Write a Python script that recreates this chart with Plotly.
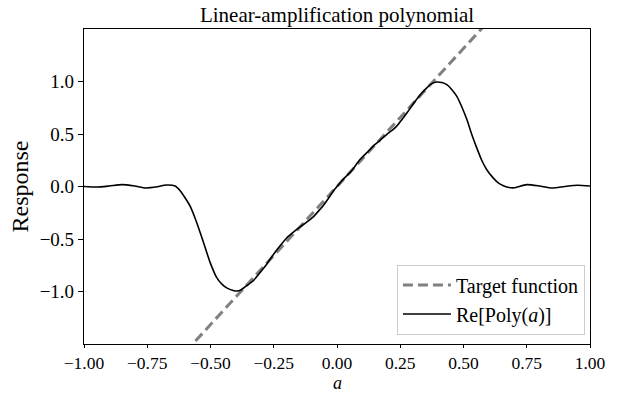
import plotly.graph_objects as go

# Target function (straight line, clipped by the axes)
target_a = [-1.0, 1.0]
target_y = [-2.63, 2.63]

# Re[Poly(a)]
poly_a = [-1.0, -0.95, -0.90, -0.85, -0.80, -0.756, -0.71, -0.675, -0.64, -0.62,
          -0.60, -0.58, -0.555, -0.528, -0.502, -0.476, -0.455, -0.436, -0.41, -0.396,
          -0.38, -0.357, -0.33, -0.304, -0.278, -0.252, -0.225, -0.199, -0.17, -0.146,
          -0.12, -0.094, -0.07, -0.054, -0.03, -0.015, 0.0, 0.025, 0.05, 0.064,
          0.09, 0.117, 0.143, 0.17, 0.196, 0.22, 0.236, 0.256, 0.276, 0.295,
          0.315, 0.335, 0.355, 0.375, 0.394, 0.414, 0.434, 0.455, 0.473, 0.493,
          0.513, 0.532, 0.552, 0.572, 0.592, 0.618, 0.64, 0.66, 0.68, 0.70,
          0.75, 0.80, 0.85, 0.90, 0.95, 1.0]
poly_y = [0.0, -0.005, 0.005, 0.018, 0.005, -0.014, -0.003, 0.014, 0.005, -0.04,
          -0.11, -0.19, -0.34, -0.53, -0.72, -0.865, -0.93, -0.965, -0.99, -0.995,
          -0.985, -0.945, -0.895, -0.82, -0.74, -0.65, -0.565, -0.49, -0.43, -0.385,
          -0.34, -0.29, -0.225, -0.18, -0.10, -0.045, 0.0, 0.07, 0.13, 0.17,
          0.255, 0.32, 0.385, 0.44, 0.495, 0.54, 0.575, 0.635, 0.70, 0.765,
          0.83, 0.89, 0.94, 0.98, 0.995, 0.99, 0.97, 0.92, 0.86, 0.76,
          0.64, 0.50, 0.37, 0.25, 0.16, 0.08, 0.03, 0.005, -0.01, -0.012,
          0.018, 0.005, -0.015, 0.0, 0.012, 0.005]

x_ticks = [-1.0, -0.75, -0.5, -0.25, 0.0, 0.25, 0.5, 0.75, 1.0]
y_ticks = [-1.0, -0.5, 0.0, 0.5, 1.0]

FONT = "Liberation Serif"

fig = go.Figure()
fig.add_trace(go.Scatter(
    x=target_a, y=target_y, mode="lines", name="Target function",
    line=dict(color="#808080", width=3, dash="10px,5px"),
))
fig.add_trace(go.Scatter(
    x=poly_a, y=poly_y, mode="lines", name="Re[Poly(<i>a</i>)]",
    line=dict(color="black", width=1.6, shape="spline", smoothing=0.6),
))

axis_common = dict(
    showgrid=False, zeroline=False, showline=True, linecolor="black", linewidth=1.2,
    mirror=True, ticks="outside", tickwidth=1.2, tickcolor="black", automargin=False,
)

fig.update_layout(
    width=628, height=394,
    margin=dict(l=84, r=38, t=29, b=50),
    paper_bgcolor="white", plot_bgcolor="white",
    font=dict(family=FONT, color="black", size=19),
    title=dict(text="Linear-amplification polynomial", x=0.5367, xanchor="center",
               y=0.962, yanchor="middle", font=dict(family=FONT, size=21, color="black")),
    xaxis=dict(range=[-1, 1], tickvals=x_ticks, tickformat=".2f", ticklen=3,
               ticklabelstandoff=0, tickfont=dict(family=FONT, size=17.5, color="black"),
               **axis_common),
    yaxis=dict(range=[-1.5, 1.5], tickvals=y_ticks, tickformat=".1f", ticklen=5,
               tickfont=dict(family=FONT, size=19, color="black"),
               title=dict(text="Response", font=dict(family=FONT, size=24), standoff=4),
               **axis_common),
    legend=dict(x=0.99, y=0.03, xanchor="right", yanchor="bottom",
                bgcolor="rgba(255,255,255,0.8)", bordercolor="#cccccc", borderwidth=1,
                font=dict(family=FONT, size=20, color="black"),
                itemwidth=48, tracegroupgap=0),
    showlegend=True,
    annotations=[dict(text="<i>a</i>", xref="paper", yref="paper", x=0.5, y=-0.1587,
                      xanchor="center", yanchor="bottom", showarrow=False, borderpad=0,
                      font=dict(family=FONT, size=18, color="black"))],
)

fig.write_html("out.html")
